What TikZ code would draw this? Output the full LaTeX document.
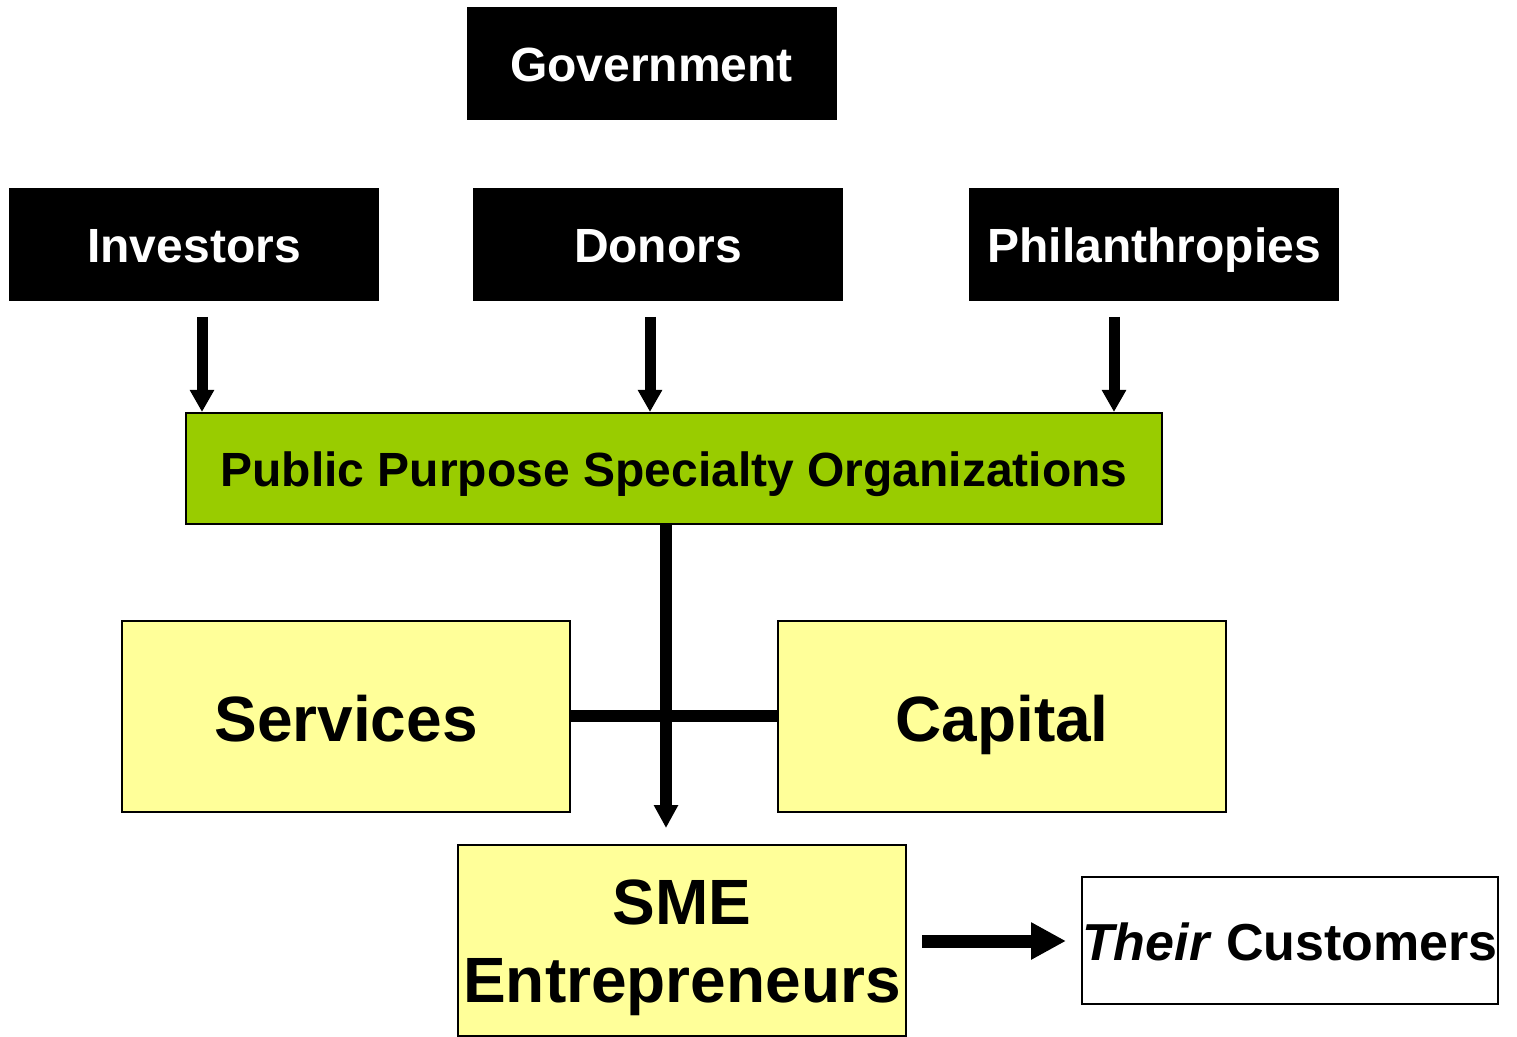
\documentclass[tikz,border=0pt]{standalone}
\usepackage{fontspec}
\setmainfont{Liberation Sans}
\usetikzlibrary{arrows.meta}
\definecolor{leaf}{HTML}{99CC00}
\definecolor{pale}{HTML}{FFFF99}
\begin{document}
\begin{tikzpicture}[x=0.5pt,y=-0.5pt,
  funder/.style={fill=black,draw=none,text=white,font=\fontsize{24}{28}\selectfont\bfseries,
    minimum width=185pt,minimum height=56.5pt,inner sep=0pt,text height=20pt,text depth=1.5pt},
  hub/.style={fill=leaf,draw=black,line width=1pt,font=\fontsize{24}{28}\selectfont\bfseries,
    minimum width=488pt,minimum height=55.5pt,inner sep=0pt,text height=20pt,text depth=1.5pt},
  offer/.style={fill=pale,draw=black,line width=1pt,font=\fontsize{32}{39}\selectfont\bfseries,
    minimum width=224pt,minimum height=95.5pt,inner sep=0pt,text height=26pt,text depth=1.5pt},
  plain/.style={fill=white,draw=black,line width=1pt,font=\fontsize{26}{30}\selectfont\bfseries,
    minimum width=208pt,minimum height=63.5pt,inner sep=0pt,text height=21pt,text depth=1.5pt},
  thin arrow/.style={line width=5.5pt,-{Triangle[length=11pt,width=11.5pt]}},
  bar/.style={line width=6pt},
  down arrow/.style={line width=6pt,-{Triangle[length=11.5pt,width=11.5pt]}},
  big arrow/.style={line width=6.5pt,-{Triangle[length=17.5pt,width=17.5pt]}}]
\useasboundingbox (0,0) rectangle (1517,1037);

% sources of funding
\node[funder] (gov) at (651.5,63.5) {Government};
\node[funder] (inv) at (194,244.5) {Investors};
\node[funder] (don) at (658,244.5) {Donors};
\node[funder] (phi) at (1154,244.5) {Philanthropies};

% intermediary organisations
\node[hub] (ppso) at (674,468.5) {Public Purpose Specialty Organizations};

% what they provide
\node[offer] (srv) at (346,716.5) {Services};
\node[offer] (cap) at (1002,716.5) {Capital};
\node[offer,text height=30pt,text depth=46.5pt] (sme) at (682,940.5)
  {\begin{tabular}[t]{@{}c@{}}SME\\Entrepreneurs\end{tabular}};
\node[plain] (cust) at (1290,940.5) {\textit{Their} Customers};

% funding flows into the hub
\coordinate (invfrom) at (202,317);
\coordinate (donfrom) at (650,317);
\coordinate (phifrom) at (1114,317);
\draw[thin arrow] (invfrom) -- (invfrom |- ppso.north);
\draw[thin arrow] (donfrom) -- (donfrom |- ppso.north);
\draw[thin arrow] (phifrom) -- (phifrom |- ppso.north);

% hub down to the entrepreneurs, joined by services and capital
\coordinate (trunk) at (666,524);
\coordinate (trunkend) at (666,828);
\draw[bar] (srv.east) -- (cap.west);
\draw[down arrow] (trunk) -- (trunkend);

% entrepreneurs serve their customers
\coordinate (smeout) at (922,941);
\draw[big arrow] (smeout) -- (smeout -| 1066,0);
\end{tikzpicture}
\end{document}
